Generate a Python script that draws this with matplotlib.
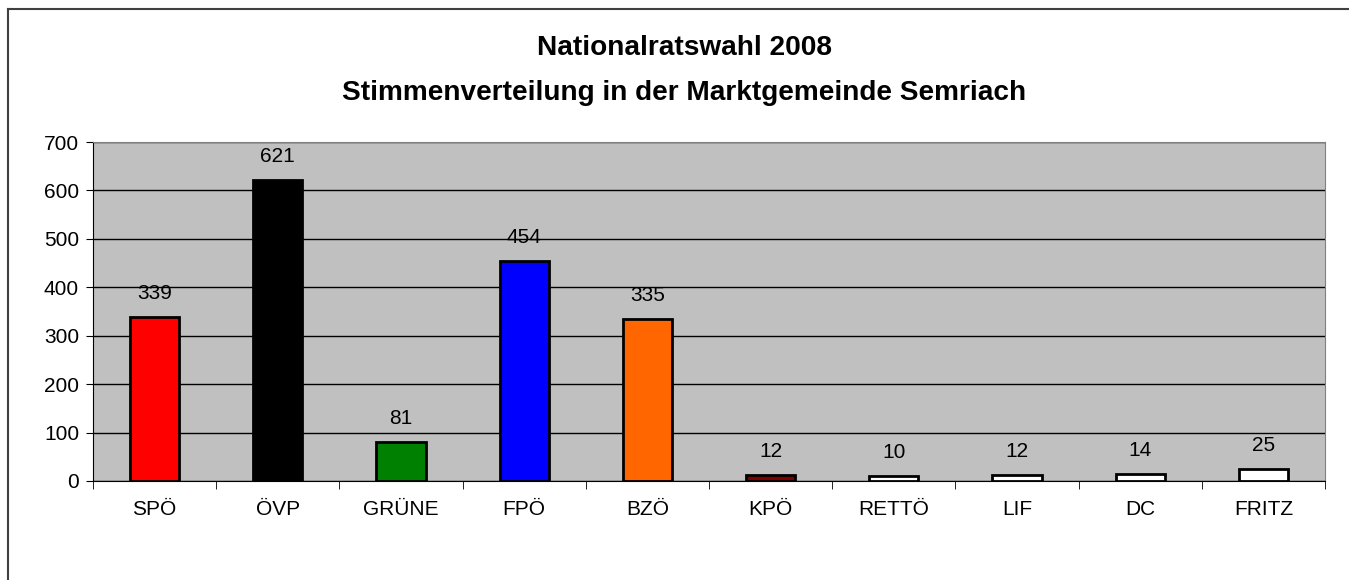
import numpy as np
import matplotlib.pyplot as plt

plt.rcParams['font.family'] = ['Liberation Sans', 'DejaVu Sans']

# Stimmen je Partei
parteien = ['SPÖ', 'ÖVP', 'GRÜNE', 'FPÖ', 'BZÖ', 'KPÖ', 'RETTÖ', 'LIF', 'DC', 'FRITZ']
stimmen = [339, 621, 81, 454, 335, 12, 10, 12, 14, 25]
farben = ['#FF0000', '#000000', '#008000', '#0000FF', '#FF6600', '#800000',
          '#FFFFFF', '#FFFFFF', '#FFFFFF', '#FFFFFF']

fig = plt.figure(figsize=(13.49, 5.8), dpi=100)
ax = fig.add_axes([93 / 1349, 1 - 481 / 580, (1325 - 93) / 1349, (481 - 142) / 580])

# Rahmen um das Diagramm (oben und links sichtbar)
fig.add_artist(plt.Line2D([8 / 1349, 8 / 1349], [0, 1 - 9 / 580], color='#404040', lw=1.5,
                          transform=fig.transFigure))
fig.add_artist(plt.Line2D([8 / 1349, 1], [1 - 9 / 580, 1 - 9 / 580], color='#404040', lw=1.5,
                          transform=fig.transFigure))

x = np.arange(len(parteien))
ax.set_facecolor('#C0C0C0')
ax.bar(x, stimmen, width=0.4, color=farben, edgecolor='black', linewidth=2, zorder=3)

for xi, v in zip(x, stimmen):
    ax.annotate(str(v), (xi, v), xytext=(0, 10), textcoords='offset points',
                ha='center', va='bottom', fontsize=15)

ax.set_xlim(-0.5, len(parteien) - 0.5)
ax.set_ylim(0, 700)
ax.set_yticks(range(0, 701, 100))
ax.yaxis.grid(True, color='#000000', linewidth=1, zorder=1)
ax.set_axisbelow(True)

ax.set_xticks(x)
ax.set_xticklabels(parteien, fontsize=15)
ax.set_xticks(np.arange(-0.5, len(parteien), 1), minor=True)
ax.tick_params(axis='x', which='major', length=0, pad=14)
ax.tick_params(axis='x', which='minor', length=6, color='black', direction='out')
ax.tick_params(axis='y', labelsize=15, length=5, direction='out', pad=5)

for s in ['top', 'right']:
    ax.spines[s].set_color('#808080')
ax.spines['left'].set_color('black')
ax.spines['bottom'].set_color('black')

tx = 684.5 / 1349
fig.text(tx, 1 - 48 / 580, 'Nationalratswahl 2008',
         ha='center', va='center', fontsize=20.2, fontweight='bold')
fig.text(tx, 1 - 93 / 580, 'Stimmenverteilung in der Marktgemeinde Semriach',
         ha='center', va='center', fontsize=20.2, fontweight='bold')

fig.savefig('out.png', dpi=100)
